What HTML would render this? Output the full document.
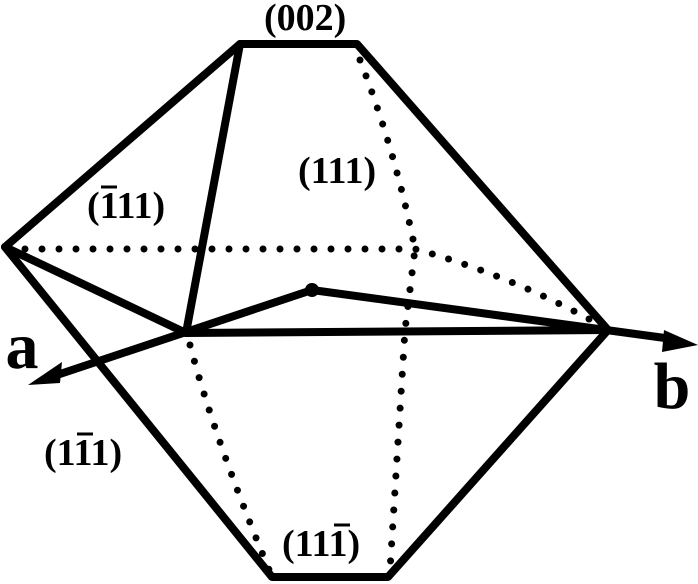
<!DOCTYPE html>
<html><head><style>
body{margin:0;background:#fff}
svg{display:block}
text{font-family:"Liberation Serif",serif;font-weight:bold;fill:#000}
</style></head><body>
<svg width="698" height="584" viewBox="0 0 698 584">
<g stroke="#000" stroke-width="8" fill="none" stroke-linecap="round" stroke-linejoin="round">
<polyline points="5,247 240,44 357,44 608,330 388,577 272,577 5,247"/>
<line x1="240" y1="44" x2="186" y2="333"/>
<line x1="5" y1="247" x2="186" y2="333"/>
<line x1="186" y1="333" x2="608" y2="330"/>
<line x1="312" y1="290" x2="665" y2="338"/>
<line x1="312" y1="290" x2="60" y2="374"/>
</g>
<g stroke="#000" stroke-width="7" fill="none" stroke-linecap="round" stroke-dasharray="0 17">
<path d="M360,60 Q395,150 415,249 L405,330 L390,570"/>
<path d="M8,249 L415,249 Q510,275 600,325"/>
<path d="M190,345 Q215,440 270,572"/>
</g>
<circle cx="312" cy="290" r="7"/>
<polygon points="28,385 62,362 60,383"/>
<polygon points="698,345 664,330 662,352"/>
<g font-size="38">
<text x="264" y="30">(002)</text>
<text x="298" y="183">(111)</text>
<text x="87" y="218">(111)</text>
<text x="44" y="465">(111)</text>
<text x="282" y="556">(111)</text>
</g>
<g stroke="#000" stroke-width="3">
<line x1="101" y1="187" x2="117" y2="187"/>
<line x1="77" y1="434" x2="93" y2="434"/>
<line x1="334" y1="525" x2="350" y2="525"/>
</g>
<text x="22" y="368" font-size="66" text-anchor="middle">a</text>
<text x="672" y="408" font-size="66" text-anchor="middle">b</text>
</svg>
</body></html>
